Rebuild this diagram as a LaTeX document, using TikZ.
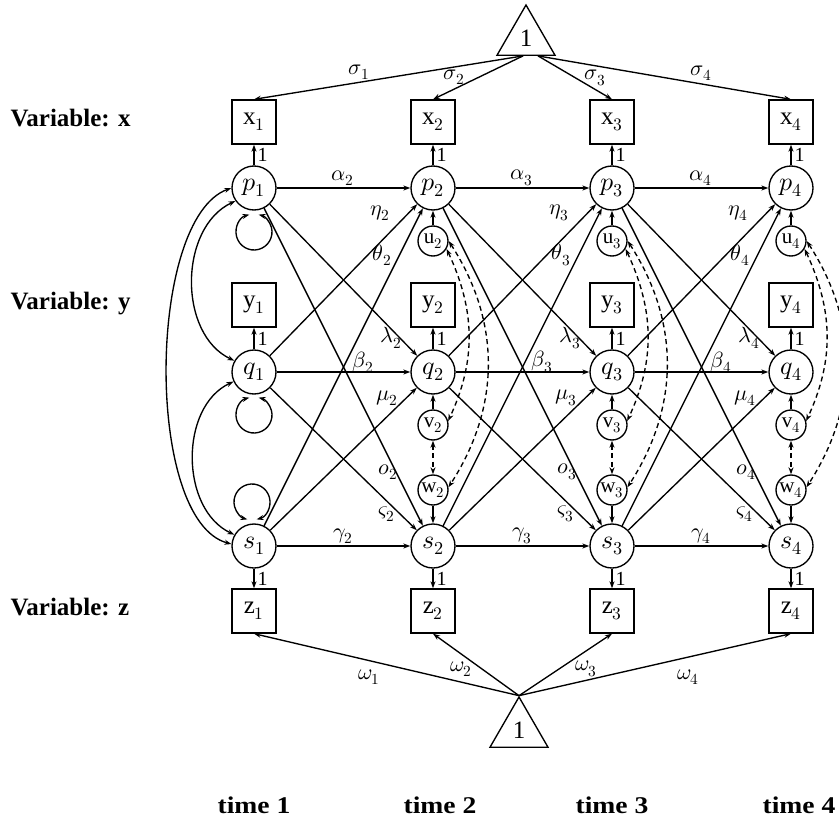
\documentclass[tikz,border=0pt]{standalone}
\usepackage{fontspec}
\usepackage{unicode-math}
\setmainfont{Liberation Serif}
\newfontfamily\timefont{Liberation Serif}[FakeStretch=1.15]
\usetikzlibrary{arrows.meta,shapes.geometric,calc}
\begin{document}
\begin{tikzpicture}[x=1pt,y=1pt,line width=1.35pt,
  >={Stealth[length=7pt,width=5pt]},
  obs/.style={draw,rectangle,minimum width=44pt,minimum height=44pt,inner sep=0pt,font=\fontsize{25}{28}\selectfont},
  lat/.style={draw,circle,minimum size=44pt,inner sep=0pt,font=\fontsize{26}{29}\selectfont},
  res/.style={draw,circle,minimum size=30pt,inner sep=0pt,font=\fontsize{21}{24}\selectfont},
  tri/.style={draw,regular polygon,regular polygon sides=3,minimum size=67pt,inner sep=0pt,font=\fontsize{25}{28}\selectfont},
  elab/.style={inner sep=0pt,font=\fontsize{22}{26}\selectfont},
  one/.style={inner sep=0pt,font=\fontsize{20}{22}\selectfont},
  varlab/.style={inner sep=0pt,anchor=base west,font=\fontsize{25}{28}\selectfont\bfseries},
  timelab/.style={inner sep=0pt,anchor=base,font=\fontsize{24}{27}\selectfont\timefont\bfseries},
  dsh/.style={dash pattern=on 5pt off 3.5pt},
]
\path[use as bounding box] (0,0) rectangle (839,-819);

% intercept triangles
\node[tri] (tt) at (526,-38.5) {1};
\node[tri] (bt) at (519,-730.5) {1};
\coordinate (tA) at ($(tt.corner 2)!0.45!(tt.corner 3)$);
\coordinate (tB) at ($(tt.corner 2)!0.70!(tt.corner 3)$);

% row labels
\node[varlab] (vx) at (10,-126.5) {Variable: x};
\node[varlab] (vy) at (10,-309.5) {Variable: y};
\node[varlab] (vz) at (10,-615.5) {Variable: z};

% time labels
\node[timelab] (tm1) at (254,-813) {time 1};
\node[timelab] (tm2) at (440,-813) {time 2};
\node[timelab] (tm3) at (612,-813) {time 3};
\node[timelab] (tm4) at (799,-813) {time 4};

% columns
\foreach \t/\X in {1/254,2/433,3/612,4/791}{
  \node[obs] (x\t) at (\X,-122) {$\mathrm{x}_{\t}$};
  \node[lat] (p\t) at (\X,-188) {$p_{\t}$};
  \node[obs] (y\t) at (\X,-305) {$\mathrm{y}_{\t}$};
  \node[lat] (q\t) at (\X,-372) {$q_{\t}$};
  \node[lat] (s\t) at (\X,-546) {$s_{\t}$};
  \node[obs] (z\t) at (\X,-611) {$\mathrm{z}_{\t}$};
  \draw[->] (p\t) -- node[one,right=3pt] (ox\t) {1} (x\t);
  \draw[->] (q\t) -- node[one,right=3pt] (oy\t) {1} (y\t);
  \draw[->] (s\t) -- node[one,right=3pt] (oz\t) {1} (z\t);
  \draw[->] (bt.corner 1) -- (z\t.south);
}

% sigma paths
\draw[->] (tA) -- (x1.north);
\draw[->] (tA) -- (x2.north);
\draw[->] (tB) -- (x3.north);
\draw[->] (tB) -- (x4.north);
\node[elab] (sg1) at (359,-72) {$\sigma_1$};
\node[elab] (sg2) at (454,-77) {$\sigma_2$};
\node[elab] (sg3) at (595,-78) {$\sigma_3$};
\node[elab] (sg4) at (701,-73) {$\sigma_4$};
\node[elab] (om1) at (369,-677) {$\omega_1$};
\node[elab] (om2) at (461,-669) {$\omega_2$};
\node[elab] (om3) at (586,-669) {$\omega_3$};
\node[elab] (om4) at (688,-677) {$\omega_4$};

% time 1 variances and covariances
\coordinate (lp) at (254,-232);
\coordinate (lq) at (254,-415);
\coordinate (ls) at (252,-502);
\draw[<->] ([shift={(105:18)}]lp) arc[start angle=105,end angle=435,radius=18];
\draw[<->] ([shift={(105:18)}]lq) arc[start angle=105,end angle=435,radius=18];
\draw[<->] ([shift={(-75:18)}]ls) arc[start angle=-75,end angle=255,radius=18];
\draw[<->] (p1.215) to[out=205,in=155] (q1.150);
\draw[<->] (q1.205) to[out=205,in=155] (s1.150);
\draw[<->] (p1.180) to[out=200,in=165,distance=90pt] (s1.175);

% transitions
\foreach \t/\pr/\X in {2/1/433,3/2/612,4/3/791}{
  \node[res] (u\t) at (\X,-241) {$\mathrm{u}_{\t}$};
  \node[res] (v\t) at (\X,-425) {$\mathrm{v}_{\t}$};
  \node[res] (w\t) at (\X,-490) {$\mathrm{w}_{\t}$};
  \draw[->] (u\t) -- (p\t);
  \draw[->] (v\t) -- (q\t);
  \draw[->] (w\t) -- (s\t);
  \draw[<->,dsh] (v\t) -- (w\t);
  \draw[<->,dsh] (u\t.-30) to[out=-65,in=65] (v\t.15);
  \draw[<->,dsh] (u\t.0) to[out=-57,in=57] (w\t.10);
  \draw[->] (p\pr) -- (p\t);
  \draw[->] (q\pr) -- (q\t);
  \draw[->] (s\pr) -- (s\t);
  \draw[->] (q\pr) -- (p\t);
  \draw[->] (s\pr) -- (p\t);
  \draw[->] (p\pr) -- (q\t);
  \draw[->] (s\pr) -- (q\t);
  \draw[->] (p\pr) -- (s\t);
  \draw[->] (q\pr) -- (s\t);
  \node[elab] (al\t) at (\X-90,-178) {$\alpha_{\t}$};
  \node[elab] (be\t) at (\X-70,-362) {$\beta_{\t}$};
  \node[elab] (ga\t) at (\X-90,-536) {$\gamma_{\t}$};
  \node[elab] (et\t) at (\X-53,-213) {$\eta_{\t}$};
  \node[elab] (th\t) at (\X-51,-255) {$\theta_{\t}$};
  \node[elab] (la\t) at (\X-42,-338) {$\lambda_{\t}$};
  \node[elab] (mu\t) at (\X-46,-398) {$\mu_{\t}$};
  \node[elab] (oo\t) at (\X-45,-472) {$o_{\t}$};
  \node[elab] (vs\t) at (\X-46,-514) {$\varsigma_{\t}$};
}
\end{tikzpicture}
\end{document}
